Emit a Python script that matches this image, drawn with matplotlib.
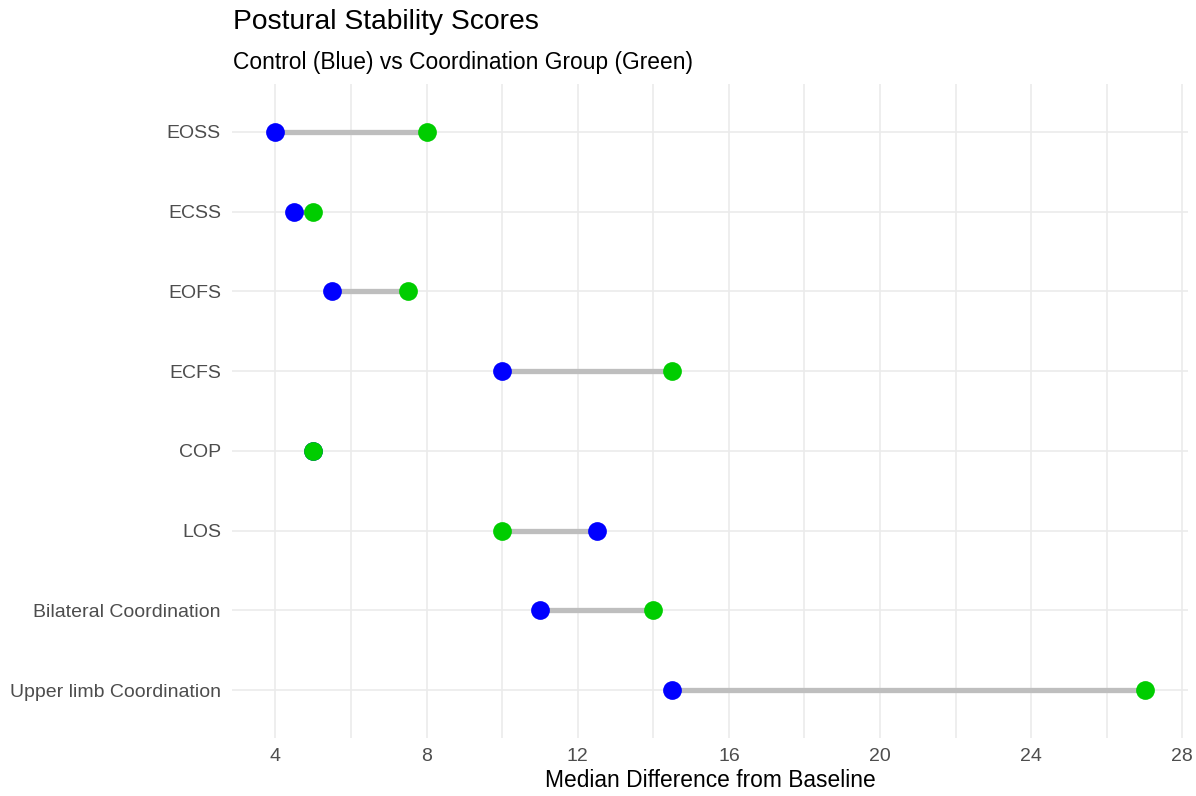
import matplotlib.pyplot as plt

plt.rcParams['font.family'] = ['Liberation Sans', 'DejaVu Sans']

# 数据（从上到下）
measures = ['EOSS', 'ECSS', 'EOFS', 'ECFS', 'COP', 'LOS',
            'Bilateral Coordination', 'Upper limb Coordination']
control = [4, 4.5, 5.5, 10, 5, 12.5, 11, 14.5]
coordination = [8, 5, 7.5, 14.5, 5, 10, 14, 27]

fig = plt.figure(figsize=(11.96, 7.96), dpi=100)
ax = fig.add_axes([232 / 1196, 1 - 738 / 796, (1188 - 232) / 1196, (738 - 84) / 796])

ypos = list(range(len(measures)))
# 连接线
ax.hlines(ypos, control, coordination, color='#BEBEBE', linewidth=3.8, zorder=2)
# 点
ax.plot(control, ypos, 'o', color='#0000FF', markersize=13.5, markeredgewidth=0, zorder=3)
ax.plot(coordination, ypos, 'o', color='#00CD00', markersize=13.5, markeredgewidth=0, zorder=4)

ax.set_yticks(ypos)
ax.set_yticklabels(measures)
ax.set_ylim(len(measures) - 1 + 0.6, -0.6)

ax.set_xlim(2.85, 28.15)
ax.set_xticks([4, 8, 12, 16, 20, 24, 28])
ax.set_xticks(range(6, 28, 4), minor=True)

ax.grid(True, which='both', color='#EBEBEB', linewidth=1.2, zorder=0)
ax.set_axisbelow(True)
for s in ax.spines.values():
    s.set_visible(False)
ax.tick_params(which='both', length=0, labelsize=14, labelcolor='#4D4D4D')
ax.tick_params(axis='x', pad=7)
ax.tick_params(axis='y', pad=8)

ax.set_xlabel('Median Difference from Baseline', fontsize=16.4, color='black', labelpad=3)

fig.text(233 / 1196, 1 - 22 / 796, 'Postural Stability Scores', fontsize=20.3,
         va='center', ha='left')
fig.text(233 / 1196, 1 - 62 / 796, 'Control (Blue) vs Coordination Group (Green)',
         fontsize=16.4, va='center', ha='left')

plt.savefig('out.png', dpi=100)
